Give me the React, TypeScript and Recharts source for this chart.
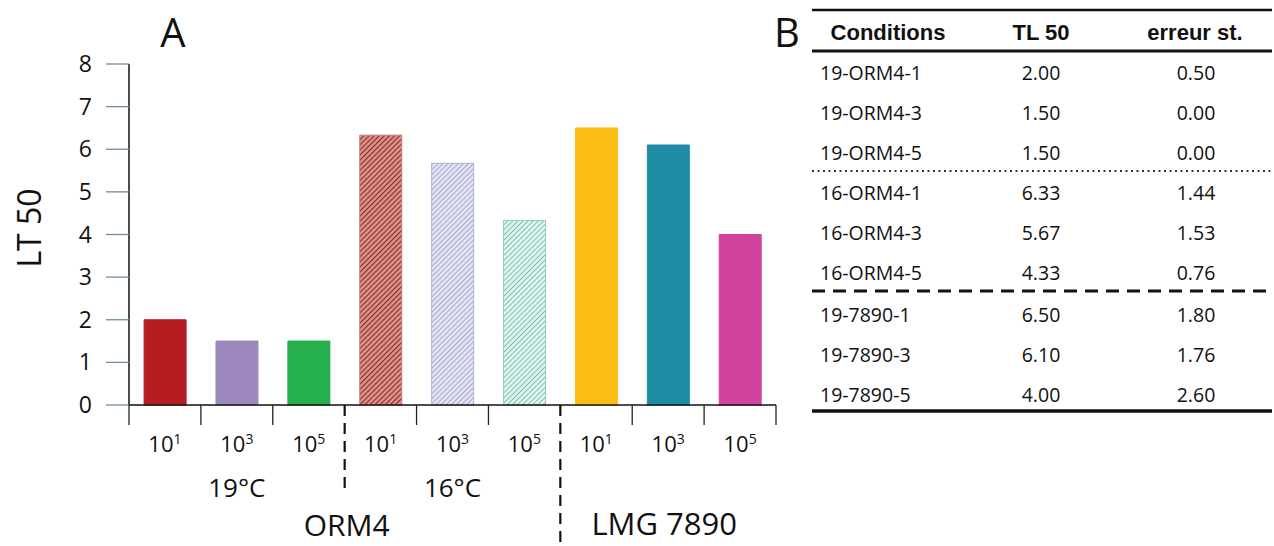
import React from "react";
import { BarChart, Bar, XAxis, YAxis, Cell } from "recharts";

// ---- data ----
const conditions = [
  "19-ORM4-1", "19-ORM4-3", "19-ORM4-5",
  "16-ORM4-1", "16-ORM4-3", "16-ORM4-5",
  "19-7890-1", "19-7890-3", "19-7890-5",
];
const tl50 = [2.0, 1.5, 1.5, 6.33, 5.67, 4.33, 6.5, 6.1, 4.0];
const stdErr = [0.5, 0.0, 0.0, 1.44, 1.53, 0.76, 1.8, 1.76, 2.6];
const exponents = ["1", "3", "5", "1", "3", "5", "1", "3", "5"];
const yTicks = [0, 1, 2, 3, 4, 5, 6, 7, 8];
const tempLabels = ["19°C", "16°C"]; // under categories 1 and 4
const strainLabels = ["ORM4", "LMG 7890"];
const tableHeader = ["Conditions", "TL 50", "erreur st."];

// ---- styles ----
const FILLS = [
  "#B51D23", "#9C88BC", "#25B04C",
  "url(#hatchRed)", "url(#hatchPurple)", "url(#hatchTeal)",
  "#FABD14", "#1F8CA6", "#D044A0",
];
const STROKES = [
  "#B51D23", "#9C88BC", "#25B04C",
  "#C07C76", "#AEB0D4", "#8FCFBF",
  "#FABD14", "#1F8CA6", "#D044A0",
];

const W = 1274;
const H = 546;
const PLOT_L = 129;
const PLOT_R = 776;
const PLOT_T = 64;
const PLOT_B = 405;
const XAXIS_H = 30;
const YAXIS_W = 60;
const BAND = (PLOT_R - PLOT_L) / conditions.length;
const FONT = "'Open Sans', 'DejaVu Sans', sans-serif";
const INK = "#111";

const data = conditions.map((c, i) => ({ name: c, tl50: tl50[i], exp: exponents[i] }));

const YTick = (props: any) => {
  const { x, y, payload } = props;
  return (
    <text x={x} y={y} dy={8} textAnchor="end" fontFamily={FONT} fontSize={23} fill={INK}>
      {payload.value}
    </text>
  );
};

const CatTick = (props: any) => {
  const { x, index } = props;
  const left = x - BAND / 2;
  const right = x + BAND / 2;
  const items: React.ReactNode[] = [];
  const isGroupStart = index === 3 || index === 6;
  if (isGroupStart) {
    items.push(
      <line key="sep" x1={left} x2={left} y1={PLOT_B} y2={index === 3 ? PLOT_B + 90 : H}
        stroke="#111" strokeWidth={2.2} strokeDasharray="11 7" />
    );
  } else {
    items.push(
      <line key="tk" x1={left} x2={left} y1={PLOT_B} y2={PLOT_B + 20} stroke="#222" strokeWidth={1.3} />
    );
  }
  if (index === conditions.length - 1) {
    items.push(
      <line key="tkr" x1={right} x2={right} y1={PLOT_B} y2={PLOT_B + 20} stroke="#222" strokeWidth={1.3} />
    );
  }
  items.push(
    <text key="lbl" x={x} y={452} textAnchor="middle" fontFamily={FONT} fontSize={22} fill={INK}>
      10<tspan dy={-8} fontSize={14}>{exponents[index]}</tspan>
    </text>
  );
  if (index === 1 || index === 4) {
    items.push(
      <text key="temp" x={x} y={497} textAnchor="middle" fontFamily={FONT} fontSize={26} fill={INK}>
        {tempLabels[index === 1 ? 0 : 1]}
      </text>
    );
  }
  if (index === 3) {
    items.push(
      <text key="s1" x={left + 2} y={536} textAnchor="middle" fontFamily={FONT} fontSize={30} fill={INK}>
        {strainLabels[0]}
      </text>
    );
  }
  if (index === 7) {
    items.push(
      <text key="s2" x={x - 4} y={535} textAnchor="middle" fontFamily={FONT} fontSize={31} fill={INK}>
        {strainLabels[1]}
      </text>
    );
  }
  return <g>{items}</g>;
};

const TABLE_L = 812;
const TABLE_R = 1272;
const COL_X = [820, 1041, 1196];
const HEAD_FONT = "'Liberation Sans', Arial, sans-serif";

const rowBaseline = (i: number) => 80 + i * 40 + (i >= 6 ? 2 : 0);

export default function App() {
  return (
    <div style={{ position: "absolute", left: 0, top: 0, width: W, height: H, background: "#fff", overflow: "hidden" }}>
      <BarChart
        width={W}
        height={H}
        data={data}
        margin={{ top: PLOT_T, right: W - PLOT_R, bottom: H - PLOT_B - XAXIS_H, left: PLOT_L - YAXIS_W }}
        barCategoryGap="21%"
      >
        <defs>
          <pattern id="hatchRed" patternUnits="userSpaceOnUse" width={3.6} height={3.6} patternTransform="rotate(45)">
            <rect width={3.6} height={3.6} fill="#E0948C" />
            <line x1={0} y1={0} x2={0} y2={3.6} stroke="#842826" strokeWidth={2.2} />
          </pattern>
          <pattern id="hatchPurple" patternUnits="userSpaceOnUse" width={3.6} height={3.6} patternTransform="rotate(45)">
            <rect width={3.6} height={3.6} fill="#E6E5F2" />
            <line x1={0} y1={0} x2={0} y2={3.6} stroke="#A2A6D0" strokeWidth={2} />
          </pattern>
          <pattern id="hatchTeal" patternUnits="userSpaceOnUse" width={3.6} height={3.6} patternTransform="rotate(45)">
            <rect width={3.6} height={3.6} fill="#E4F4EF" />
            <line x1={0} y1={0} x2={0} y2={3.6} stroke="#6CC2AF" strokeWidth={1.9} />
          </pattern>
        </defs>
        <YAxis
          width={YAXIS_W}
          domain={[0, 8]}
          ticks={yTicks}
          interval={0}
          tickSize={23}
          tickMargin={14}
          axisLine={{ stroke: "#111", strokeWidth: 1.5 }}
          tickLine={{ stroke: "#6d8f9c", strokeWidth: 1.3 }}
          tick={<YTick />}
        />
        <XAxis
          dataKey="name"
          height={XAXIS_H}
          interval={0}
          tickLine={false}
          axisLine={{ stroke: "#111", strokeWidth: 1.5 }}
          tick={<CatTick />}
        />
        <Bar dataKey="tl50" isAnimationActive={false}>
          {data.map((d, i) => (
            <Cell key={d.name} fill={FILLS[i]} stroke={STROKES[i]} strokeWidth={1} />
          ))}
        </Bar>
      </BarChart>

      <svg width={W} height={H} style={{ position: "absolute", left: 0, top: 0, pointerEvents: "none" }}>
        <text x={173} y={47} textAnchor="middle" fontFamily={FONT} fontSize={40} fill={INK}>A</text>
        <text x={787} y={47} textAnchor="middle" fontFamily={FONT} fontSize={40} fill={INK}>B</text>
        <text x={0} y={0} transform="translate(41 228) rotate(-90)" textAnchor="middle" fontFamily={FONT} fontSize={32} fill={INK}>
          LT 50
        </text>

        {/* table */}
        <line x1={TABLE_L} x2={TABLE_R} y1={10} y2={10} stroke="#111" strokeWidth={2.5} />
        <line x1={TABLE_L} x2={TABLE_R} y1={51} y2={51} stroke="#111" strokeWidth={3} />
        <line x1={TABLE_L} x2={TABLE_R} y1={171} y2={171} stroke="#333" strokeWidth={2} strokeDasharray="2 3.5" />
        <line x1={TABLE_L} x2={TABLE_R} y1={291} y2={291} stroke="#111" strokeWidth={3} strokeDasharray="13 8" />
        <line x1={TABLE_L} x2={TABLE_R} y1={411} y2={411} stroke="#111" strokeWidth={3.5} />
        <text x={888} y={40} textAnchor="middle" fontFamily={HEAD_FONT} fontWeight="bold" fontSize={22} fill="#111">{tableHeader[0]}</text>
        <text x={1041} y={40} textAnchor="middle" fontFamily={HEAD_FONT} fontWeight="bold" fontSize={22} fill="#111">{tableHeader[1]}</text>
        <text x={1195} y={40} textAnchor="middle" fontFamily={HEAD_FONT} fontWeight="bold" fontSize={22} fill="#111">{tableHeader[2]}</text>
        {conditions.map((c, i) => (
          <g key={c}>
            <text x={COL_X[0]} y={rowBaseline(i)} fontFamily={FONT} fontSize={19.5} fill={INK}>{c}</text>
            <text x={COL_X[1]} y={rowBaseline(i)} textAnchor="middle" fontFamily={FONT} fontSize={19.5} fill={INK}>{tl50[i].toFixed(2)}</text>
            <text x={COL_X[2]} y={rowBaseline(i)} textAnchor="middle" fontFamily={FONT} fontSize={19.5} fill={INK}>{stdErr[i].toFixed(2)}</text>
          </g>
        ))}
      </svg>
    </div>
  );
}
